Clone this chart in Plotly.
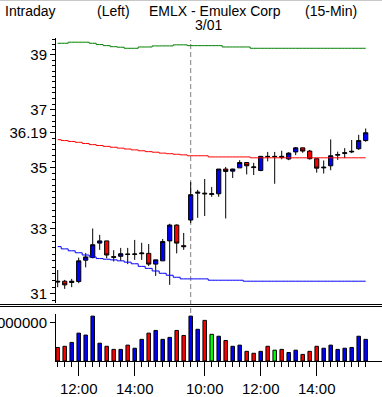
import math
import plotly.graph_objects as go

# ---------------- data ----------------
times = ["11:15", "11:30", "11:45", "12:00", "12:15", "12:30", "12:45", "13:00", "13:15",
         "13:30", "13:45", "14:00", "14:15", "14:30", "14:45", "15:00", "15:15", "15:30", "15:45",
         "09:30", "09:45", "10:00", "10:15", "10:30", "10:45", "11:00", "11:15", "11:30", "11:45",
         "12:00", "12:15", "12:30", "12:45", "13:00", "13:15", "13:30", "13:45", "14:00", "14:15",
         "14:30", "14:45", "15:00", "15:15", "15:30", "15:45"]

open_ = [31.38, 31.38, 31.34, 31.37, 32.02, 32.10, 32.55, 32.62, 32.13, 32.14,
         32.21, 32.20, 32.22, 32.23, 31.90, 32.00, 32.62, 33.12, 32.47,
         33.28, 34.15, 34.15, 34.11, 34.13, 34.95, 34.88, 34.99, 35.17, 35.00,
         34.90, 35.38, 35.38, 35.38, 35.29, 35.53, 35.67, 35.56, 35.30, 34.99,
         35.06, 35.42, 35.48, 35.53, 35.64, 35.92]
high = [31.72, 31.42, 31.45, 32.10, 32.24, 33.01, 32.81, 32.62, 32.33, 32.40,
        32.40, 32.65, 32.56, 32.52, 32.03, 32.68, 33.16, 33.14, 32.87,
        34.52, 34.26, 34.62, 34.35, 34.95, 35.02, 34.96, 35.25, 35.17, 35.16,
        35.38, 35.53, 35.53, 35.57, 35.52, 35.70, 35.67, 35.60, 35.30, 35.24,
        35.96, 35.54, 35.66, 35.94, 36.12, 36.34]
low = [31.20, 31.15, 31.20, 31.32, 31.80, 32.08, 32.34, 32.08, 31.98, 32.00,
       31.90, 32.03, 32.03, 31.84, 31.54, 32.00, 31.27, 32.23, 32.34,
       33.18, 33.35, 33.41, 34.03, 34.03, 33.33, 34.65, 34.99, 34.77, 34.75,
       34.88, 35.21, 34.46, 35.28, 35.25, 35.42, 35.50, 35.27, 34.83, 34.80,
       34.91, 35.26, 35.32, 35.49, 35.60, 35.88]
close = [31.36, 31.27, 31.38, 32.00, 32.12, 32.50, 32.62, 32.18, 32.11, 32.22,
         32.20, 32.21, 32.24, 31.90, 32.03, 32.60, 33.12, 32.55, 32.44,
         34.10, 34.18, 34.13, 34.13, 34.95, 34.87, 34.95, 35.17, 35.06, 35.02,
         35.38, 35.37, 35.37, 35.35, 35.49, 35.67, 35.56, 35.30, 34.98, 35.01,
         35.40, 35.44, 35.50, 35.55, 35.92, 36.19]

volume = [350000, 380000, 480000, 720000, 670000, 1160000, 460000, 380000, 300000, 300000,
          410000, 330000, 560000, 720000, 790000, 560000, 610000, 790000, 660000, 1160000,
          820000, 1050000, 690000, 640000, 530000, 380000, 410000, 250000, 200000, 250000,
          380000, 280000, 300000, 220000, 280000, 170000, 250000, 380000, 330000, 410000,
          300000, 330000, 350000, 640000, 560000]

band_upper = [39.44, 39.44, 39.48, 39.48, 39.48, 39.44, 39.39, 39.35, 39.31, 39.29,
              39.25, 39.25, 39.30, 39.30, 39.34, 39.34, 39.34, 39.38, 39.38,
              39.35, 39.35, 39.35, 39.35, 39.35, 39.30, 39.30, 39.30, 39.30, 39.25,
              39.25, 39.25, 39.25, 39.25, 39.25, 39.25, 39.25, 39.25, 39.25, 39.25,
              39.25, 39.25, 39.25, 39.25, 39.25, 39.25]
band_mid = [35.95, 35.92, 35.89, 35.86, 35.82, 35.78, 35.75, 35.72, 35.69, 35.66,
            35.63, 35.60, 35.57, 35.54, 35.52, 35.49, 35.47, 35.45, 35.43,
            35.40, 35.40, 35.40, 35.36, 35.36, 35.36, 35.36, 35.36, 35.36, 35.33,
            35.33, 35.33, 35.33, 35.33, 35.33, 35.33, 35.33, 35.33, 35.33, 35.33,
            35.33, 35.33, 35.33, 35.33, 35.33, 35.33]
band_lower = [32.44, 32.37, 32.31, 32.25, 32.18, 32.12, 32.07, 32.05, 32.03, 32.00,
              31.96, 31.91, 31.83, 31.77, 31.69, 31.62, 31.56, 31.50, 31.45,
              31.45, 31.45, 31.45, 31.41, 31.41, 31.41, 31.41, 31.41, 31.38, 31.38,
              31.38, 31.38, 31.38, 31.38, 31.38, 31.38, 31.38, 31.38, 31.38, 31.38,
              31.38, 31.38, 31.38, 31.38, 31.38, 31.38]

price_ticks = [31, 33, 35, 37, 39]
time_labels = ["10:00", "12:00", "14:00"]
volume_ticks = [1000000]
session_date = "3/01"

# ---------------- layout helpers ----------------
W, H = 382, 397
ML, MR, MT, MB = 56, 0, 38, 36
PW = W - ML - MR
PH = H - MT - MB


def px_x(px):
    return (px - ML) / PW


def px_y(py):
    return (H - MB - py) / PH


x = list(range(len(times)))
FONT = "Liberation Sans"

vol_colors = []
for i in range(len(close)):
    prev = close[i - 1] if i > 0 else open_[i]
    if round(close[i], 2) > round(prev, 2):
        vol_colors.append("#0000ff")
    elif round(close[i], 2) < round(prev, 2):
        vol_colors.append("#ff0000")
    else:
        vol_colors.append("#00ff00")

fig = go.Figure()
fig.add_trace(go.Candlestick(
    x=x, open=open_, high=high, low=low, close=close,
    increasing=dict(line=dict(color="black", width=1), fillcolor="#0000ff"),
    decreasing=dict(line=dict(color="black", width=1), fillcolor="#ff0000"),
    whiskerwidth=0, showlegend=False, hoverinfo="skip", xaxis="x", yaxis="y"))

for series, col in ((band_upper, "#008000"), (band_mid, "#ff0000"), (band_lower, "#0000ff")):
    fig.add_trace(go.Scatter(x=x, y=series, mode="lines",
                             line=dict(color=col, width=1, shape="hvh"),
                             showlegend=False, hoverinfo="skip", xaxis="x", yaxis="y"))

fig.add_trace(go.Bar(x=x, y=volume, width=0.5,
                     marker=dict(color=vol_colors, line=dict(color="black", width=1)),
                     showlegend=False, hoverinfo="skip", xaxis="x", yaxis="y2"))

last_price = close[-1]
ytickvals = price_ticks + [last_price]
yticktext = [str(v) for v in price_ticks] + [f"{last_price:.2f}"]
minor_price = [round(30.8 + 0.2 * k, 1) for k in range(45)]

major_x = [i for i, t in enumerate(times) if t in time_labels]
major_text = [times[i] for i in major_x]

day2_start = times.index("09:30")

fig.update_layout(
    width=W, height=H,
    margin=dict(l=ML, r=MR, t=MT, b=MB, autoexpand=False),
    paper_bgcolor="white", plot_bgcolor="white",
    font=dict(family=FONT, size=15, color="black"),
    boxgap=0.25, boxgroupgap=0.2, bargap=0,
    showlegend=False, hovermode=False,
    xaxis=dict(domain=[0, 1], range=[(ML - 57.7) / 7, (W - 57.7) / 7], anchor="y2",
               showline=True, linecolor="black", linewidth=1,
               ticks="outside", ticklen=14, tickcolor="black", tickwidth=1,
               tickmode="array", tickvals=major_x, ticktext=major_text,
               tickfont=dict(family=FONT, size=15, color="black"),
               showgrid=False, zeroline=False, rangeslider=dict(visible=False),
               minor=dict(tickmode="array", tickvals=x, ticklen=5, ticks="outside",
                          tickcolor="black", tickwidth=1, showgrid=False),
               automargin=False),
    yaxis=dict(domain=[px_y(303), 1], type="log",
               range=[math.log10(30.73), math.log10(39.64)], anchor="x",
               tickmode="array", tickvals=ytickvals, ticktext=yticktext,
               ticks="outside", ticklen=5, tickcolor="black", tickwidth=1,
               showline=True, linecolor="black", linewidth=1,
               showgrid=False, zeroline=False,
               tickfont=dict(family=FONT, size=15, color="black"),
               minor=dict(tickmode="array", tickvals=minor_price, ticklen=3,
                          ticks="outside", tickcolor="black", showgrid=False),
               automargin=False),
    yaxis2=dict(domain=[0, px_y(314)], range=[0, 1214500], anchor="x",
                tickmode="array", tickvals=volume_ticks,
                ticktext=[str(v) for v in volume_ticks],
                ticks="outside", ticklen=5, tickcolor="black",
                showline=True, linecolor="black", linewidth=1,
                showgrid=False, zeroline=False,
                tickfont=dict(family=FONT, size=15, color="black"),
                automargin=False),
)

shapes = [
    dict(type="line", xref="x", yref="paper", x0=day2_start, x1=day2_start,
         y0=px_y(313), y1=px_y(40), line=dict(color="#808080", width=1, dash="5px,3px"),
         layer="below"),
    dict(type="line", xref="paper", yref="paper", x0=px_x(0), x1=1,
         y0=px_y(304.5), y1=px_y(304.5), line=dict(color="black", width=1)),
    dict(type="line", xref="paper", yref="paper", x0=px_x(0), x1=1,
         y0=px_y(306.5), y1=px_y(306.5), line=dict(color="black", width=1)),
    dict(type="line", xref="paper", yref="paper", x0=px_x(0), x1=1,
         y0=px_y(0.5), y1=px_y(0.5), line=dict(color="#c8c8c8", width=1)),
]
fig.update_layout(shapes=shapes)

header = [("Intraday", 3, 11), ("(Left)", 95, 11), ("EMLX - Emulex Corp", 147, 11),
          ("(15-Min)", 303, 11), (session_date, 193, 25)]
for txt, hx, hy in header:
    fig.add_annotation(text=txt, xref="paper", yref="paper", x=px_x(hx), y=px_y(hy),
                       xanchor="left", yanchor="middle", showarrow=False,
                       font=dict(family=FONT, size=14, color="black"))

fig.write_html(
    "out.html",
    config={"displayModeBar": False, "staticPlot": True},
    post_script="document.body.style.margin='0';document.body.style.padding='0';"
                "document.documentElement.style.overflow='hidden';",
)
